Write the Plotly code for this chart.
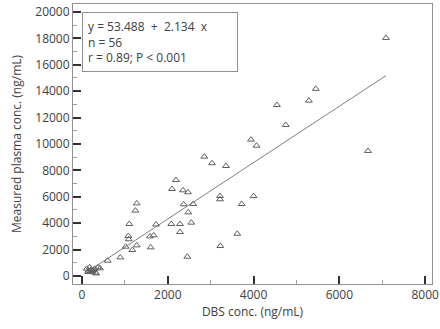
import plotly.graph_objects as go

dbs_conc = [109, 156, 179, 217, 240, 295, 310, 373, 140, 260, 200,
            599, 893, 1018, 1080, 1090, 1275, 1173, 1103, 1243, 1275,
            1585, 1671, 1601, 1725, 2082, 2284, 2548, 2284, 2455, 2478,
            2370, 2595, 2098, 2191, 2354, 2471, 2851, 3030, 3217, 3217,
            3224, 3357, 3620, 3722, 4000, 3940, 4070, 4545, 4750, 5290,
            5450, 6667, 7086, 420, 330]
plasma_conc = [550, 400, 660, 500, 330, 550, 250, 660, 300, 450, 350,
               1160, 1410, 2220, 3030, 2780, 2320, 1970, 3940, 4950, 5500,
               3000, 3080, 2170, 3900, 3940, 3940, 4040, 3330, 1460, 4820,
               5430, 5450, 6590, 7270, 6490, 6340, 9040, 8540, 6060, 5810,
               2270, 8330, 3200, 5455, 6050, 10330, 9870, 12950, 11440, 13280,
               14170, 9470, 18030, 580, 200]

intercept = 53.488
slope = 2.134
fit_range = [256, 7090]
fit_y = [intercept + slope * v for v in fit_range]

x_ticks = [0, 2000, 4000, 6000, 8000]
y_ticks = [0, 2000, 4000, 6000, 8000, 10000, 12000, 14000, 16000, 18000, 20000]

stats_lines = ["y = 53.488  +  2.134  x", "n = 56", "r = 0.89; P < 0.001"]

font_family = "Open Sans, sans-serif"
txt_col = "#404040"

fig = go.Figure()
fig.add_trace(go.Scatter(x=fit_range, y=fit_y, mode="lines",
                         line=dict(color="#808080", width=1), showlegend=False))
fig.add_trace(go.Scatter(x=dbs_conc, y=plasma_conc, mode="markers",
                         marker=dict(symbol="triangle-up-open", size=6,
                                     color="#606060", line=dict(width=1)),
                         showlegend=False))

axis_common = dict(showline=True, linecolor="#909090", linewidth=1, mirror=True,
                   showgrid=False, zeroline=False, ticks="inside", ticklen=8,
                   tickwidth=2, tickcolor="#303030", automargin=False,
                   tickfont=dict(family=font_family, size=12, color=txt_col),
                   minor=dict(ticks="inside", ticklen=4, tickwidth=1,
                              tickcolor="#a0a0a0", dtick=1000))

fig.update_xaxes(range=[-210, 8160], tickvals=x_ticks,
                 ticktext=[str(v) for v in x_ticks],
                 title=dict(text="DBS conc. (ng/mL)", standoff=4,
                            font=dict(family=font_family, size=12, color=txt_col)),
                 **axis_common)
fig.update_yaxes(range=[-606, 20600], tickvals=y_ticks,
                 ticktext=[str(v) for v in y_ticks],
                 title=dict(text="Measured plasma conc. (ng/mL)", standoff=11,
                            font=dict(family=font_family, size=12, color=txt_col)),
                 **axis_common)

fig.add_annotation(xref="paper", yref="paper", x=0.025, y=0.971,
                   xanchor="left", yanchor="top", align="left",
                   text="<br>".join(stats_lines), showarrow=False,
                   font=dict(family=font_family, size=12, color=txt_col),
                   bordercolor="#909090", borderwidth=1, borderpad=5,
                   bgcolor="white", width=144)

fig.update_layout(width=440, height=329, plot_bgcolor="white", paper_bgcolor="white",
                  margin=dict(l=73, r=8, t=4, b=45))

fig.write_html("out.html", config={"displayModeBar": False},
               post_script="document.body.style.margin='0';")
